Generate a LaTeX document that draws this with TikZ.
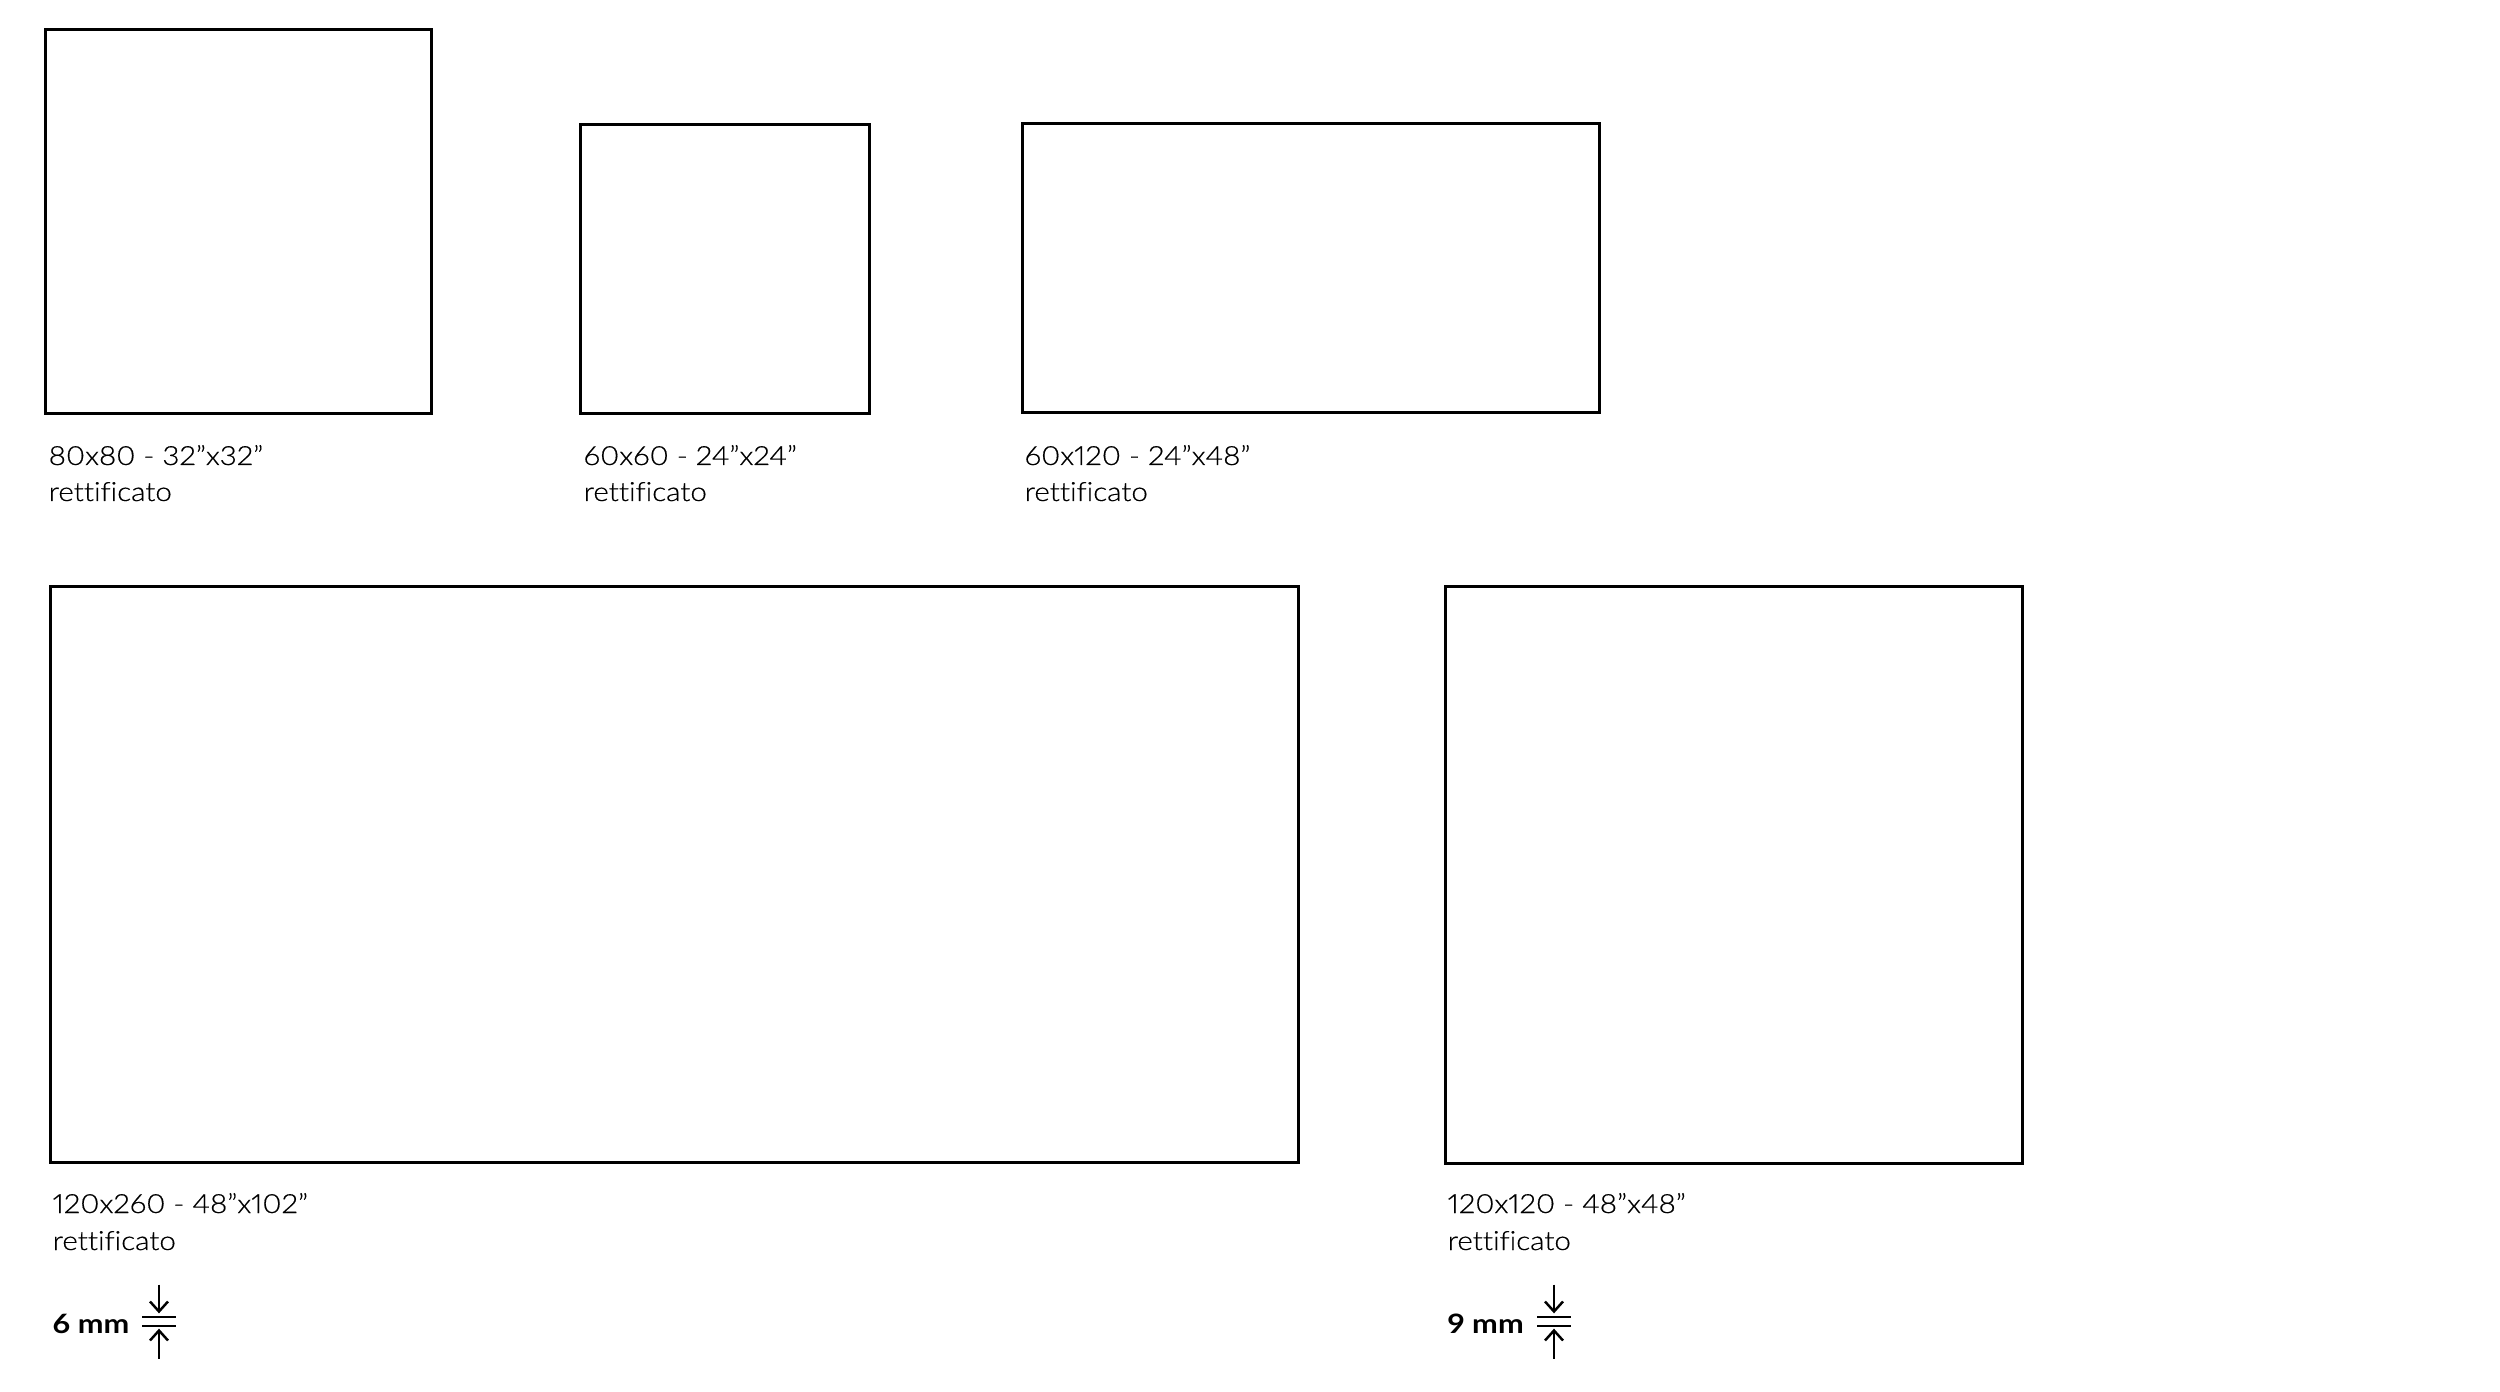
\documentclass[tikz,border=0pt]{standalone}
\usepackage{fontspec}
\setmainfont{Lato}[UprightFont={* Light},BoldFont={* Bold},Ligatures=NoCommon,Numbers=Proportional,UprightFeatures={FakeBold=0.5,FakeStretch=1.12},BoldFeatures={FakeStretch=1.15}]
\begin{document}
\begin{tikzpicture}[x=0.01cm,y=-0.01cm,
  tile/.style={draw=black,line width=0.85pt,inner sep=0pt,outer sep=0pt,fill=none},
  lbl/.style={anchor=base west,inner sep=0pt,font=\fontsize{7.5}{9}\selectfont},
  thk/.style={anchor=base west,inner sep=0pt,font=\fontsize{7.6}{9}\selectfont\bfseries},
  iconline/.style={line width=0.7pt},
  thickicon/.pic={
    \draw[iconline] (-17,-4.5) -- (17,-4.5);
    \draw[iconline] (-17,4.5) -- (17,4.5);
    \draw[iconline] (0,-37) -- (0,-10);
    \draw[iconline] (-9,-20) -- (0,-10) -- (9,-20);
    \draw[iconline] (0,37) -- (0,9);
    \draw[iconline] (-9,19) -- (0,9) -- (9,19);
  }]
\useasboundingbox (0,0) rectangle (2500,1392);
% top row
\node[tile,minimum width=3.85cm,minimum height=3.83cm] (b1) at (238.5,221.5) {};
\node[tile,minimum width=2.88cm,minimum height=2.88cm] (b2) at (725,269) {};
\node[tile,minimum width=5.76cm,minimum height=2.88cm] (b3) at (1311,268) {};
\node[lbl] (l1a) at (48,465) {80x80 - 32”x32”};
\node[lbl] (l1b) at (48,501) {rettificato};
\node[lbl] (l2a) at (583,465) {60x60 - 24”x24”};
\node[lbl] (l2b) at (583,501) {rettificato};
\node[lbl] (l3a) at (1024,465) {60x120 - 24”x48”};
\node[lbl] (l3b) at (1024,501) {rettificato};
% bottom row
\node[tile,minimum width=12.47cm,minimum height=5.75cm] (b4) at (674.5,874.5) {};
\node[tile,minimum width=5.76cm,minimum height=5.76cm] (b5) at (1734,875) {};
\node[lbl] (l4a) at (52,1213) {120x260 - 48”x102”};
\node[lbl] (l4b) at (52,1250) {rettificato};
\node[lbl] (l5a) at (1447,1213) {120x120 - 48”x48”};
\node[lbl] (l5b) at (1447,1250) {rettificato};
\node[thk] (t4) at (52,1333) {6 mm};
\node[thk] (t5) at (1447,1333) {9 mm};
\pic at (159,1321.5) {thickicon};
\pic at (1554,1321.5) {thickicon};
\end{tikzpicture}
\end{document}
